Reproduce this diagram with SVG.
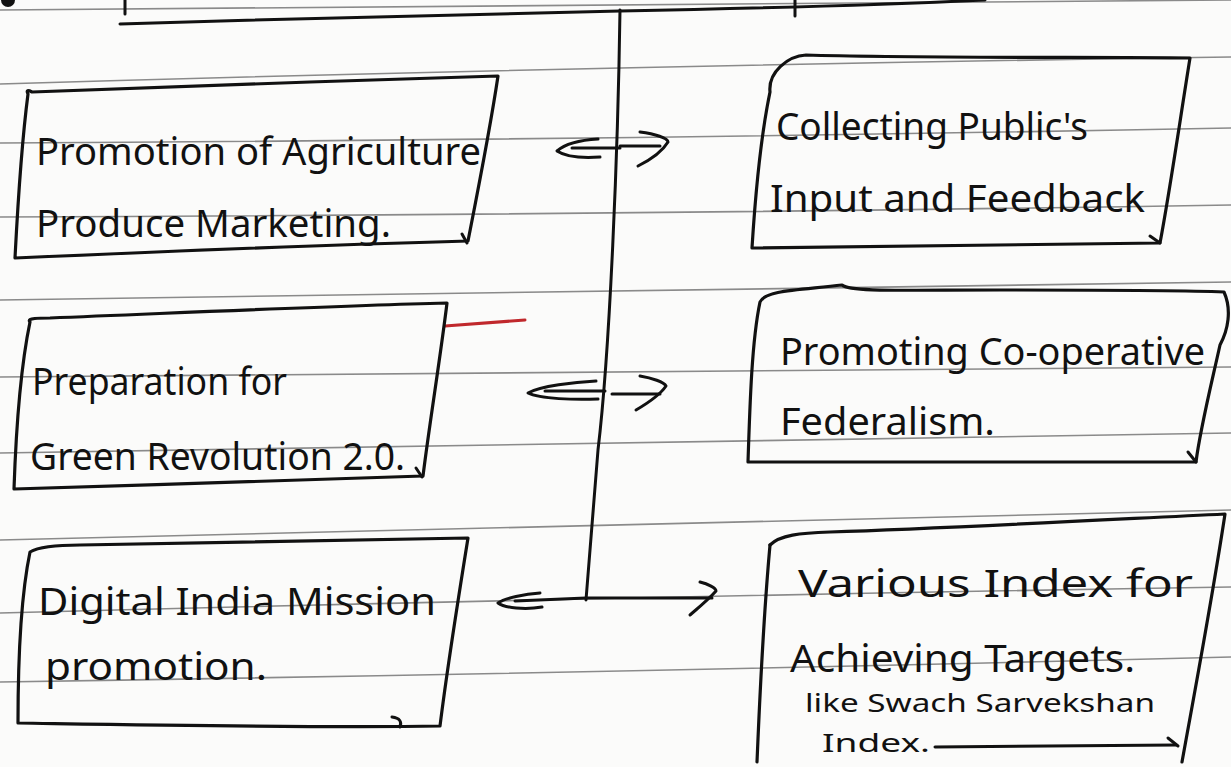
<svg xmlns="http://www.w3.org/2000/svg" width="1231" height="767" viewBox="0 0 1231 767">
<defs>
<style>
.rule{fill:none;stroke:#8a8a8a;stroke-width:1.6}
.box{fill:none;stroke:#111;stroke-width:3.2;stroke-linejoin:round;stroke-linecap:round}
.ink{fill:none;stroke:#111;stroke-width:3;stroke-linecap:round;stroke-linejoin:round}
.t{font-family:"Noto Sans","Liberation Sans",sans-serif;font-size:38px;fill:#111}
.s{font-family:"Noto Sans","Liberation Sans",sans-serif;font-size:26px;fill:#111}
</style>
</defs>
<rect width="1231" height="767" fill="#fbfbfa"/>
<g id="paper">
<path class="rule" d="M0,10 Q600,6 1231,0"/>
<path class="rule" d="M0,84 Q600,66 1231,57"/>
<path class="rule" d="M0,143 Q600,140 1231,128"/>
<path class="rule" d="M0,217 Q600,215 1231,205"/>
<path class="rule" d="M0,300 Q600,293 1231,282"/>
<path class="rule" d="M0,377 Q600,370 1231,367"/>
<path class="rule" d="M0,453 Q600,443 1231,433"/>
<path class="rule" d="M0,540 Q600,523 1231,510"/>
<path class="rule" d="M0,613 Q600,597 1231,587"/>
<path class="rule" d="M0,682 Q600,673 1231,657"/>
<path d="M445,326 L525,320" stroke="#c0282c" stroke-width="3" fill="none" stroke-linecap="round"/>
<circle cx="8" cy="0" r="7" fill="#111"/>
</g>
<g id="header">
<path class="ink" d="M120,24 C300,18 500,14 620,11 C780,8 900,4 985,0" stroke-width="4"/>
<path class="ink" d="M125,0 V14"/>
<path class="ink" d="M795,0 V16"/>
</g>
<g id="connectors">
<path class="ink" d="M620,10 C618,150 610,350 598,450 C592,520 588,570 586,600"/>
<path class="ink" d="M572,148 H620"/>
<path class="ink" d="M598,139 C580,140 565,144 557,151 C566,157 585,158 600,157"/>
<path class="ink" d="M620,146 H660"/>
<path class="ink" d="M640,132 C655,134 668,138 668,142 C662,152 650,160 638,166"/>
<path class="ink" d="M545,391 H605"/>
<path class="ink" d="M596,381 C575,382 540,386 528,393 C540,399 575,400 598,399"/>
<path class="ink" d="M612,394 H660"/>
<path class="ink" d="M640,376 C652,378 664,382 666,386 C660,395 648,403 636,410"/>
<path class="ink" d="M515,601 L586,598 H712"/>
<path class="ink" d="M540,593 C525,594 505,598 498,603 C505,608 525,610 542,607"/>
<path class="ink" d="M700,582 C708,584 716,588 716,591 C708,600 698,608 690,615"/>
</g>
<g id="node-agriculture">
<path class="box" d="M28,94 C26,90 28,90 32,92 C150,88 350,80 498,76 C490,130 478,190 468,241 C320,245 150,252 15,258 C18,200 22,140 28,94 Z"/>
<path class="ink" d="M462,234 L467,243"/>
<text class="t" x="36" y="165" textLength="445" lengthAdjust="spacingAndGlyphs">Promotion of Agriculture</text>
<text class="t" x="36" y="237" textLength="355" lengthAdjust="spacingAndGlyphs">Produce Marketing.</text>
</g>
<g id="node-feedback">
<path class="box" d="M770,92 C768,72 788,56 806,55 C900,58 1100,57 1190,58 C1180,120 1170,190 1160,243 C1000,245 860,246 752,248 C755,200 760,140 770,92 Z"/>
<path class="ink" d="M1150,236 L1160,243"/>
<text class="t" x="776" y="140" textLength="312" lengthAdjust="spacingAndGlyphs">Collecting Public's</text>
<text class="t" x="770" y="212" textLength="375" lengthAdjust="spacingAndGlyphs">Input and Feedback</text>
</g>
<g id="node-green">
<path class="box" d="M30,322 C26,318 40,318 50,318 C200,312 330,306 447,303 C440,360 430,420 423,476 C300,480 150,485 14,489 C16,430 20,370 30,322 Z"/>
<path class="ink" d="M416,468 L422,477"/>
<text class="t" x="32" y="395" textLength="255" lengthAdjust="spacingAndGlyphs">Preparation for</text>
<text class="t" x="30" y="470" textLength="375" lengthAdjust="spacingAndGlyphs">Green Revolution 2.0.</text>
</g>
<g id="node-federalism">
<path class="box" d="M760,302 C765,290 800,290 842,285 C850,292 900,290 1000,290 C1120,290 1180,290 1224,292 C1232,310 1228,330 1220,345 C1210,390 1200,430 1196,462 C1000,463 870,463 748,462 C750,400 752,340 760,302 Z"/>
<path class="ink" d="M1188,452 L1196,462"/>
<text class="t" x="780" y="365" textLength="425" lengthAdjust="spacingAndGlyphs">Promoting Co-operative</text>
<text class="t" x="780" y="435" textLength="215" lengthAdjust="spacingAndGlyphs">Federalism.</text>
</g>
<g id="node-digital">
<path class="box" d="M30,552 C40,546 60,545 80,545 C220,542 350,540 468,538 C458,600 447,670 440,726 C320,728 150,725 18,723 C18,660 20,600 30,552 Z"/>
<path class="ink" d="M392,717 C400,718 402,722 400,727"/>
<text class="t" x="38" y="615" textLength="398" lengthAdjust="spacingAndGlyphs">Digital India Mission</text>
<text class="t" x="45" y="680" textLength="222" lengthAdjust="spacingAndGlyphs">promotion.</text>
</g>
<g id="node-index">
<path class="box" d="M770,545 C780,535 800,533 830,532 C950,528 1100,520 1225,514 C1212,600 1195,690 1182,762"/>
<path class="box" d="M770,545 C765,600 760,690 757,762"/>
<path class="ink" d="M935,747 L1176,745"/>
<path class="ink" d="M1168,738 L1178,746"/>
<text class="t" x="798" y="597" textLength="395" lengthAdjust="spacingAndGlyphs">Various Index for</text>
<text class="t" x="790" y="672" textLength="345" lengthAdjust="spacingAndGlyphs">Achieving Targets.</text>
<text class="s" x="805" y="712" textLength="350" lengthAdjust="spacingAndGlyphs">like Swach Sarvekshan</text>
<text class="s" x="822" y="752" textLength="108" lengthAdjust="spacingAndGlyphs">Index.</text>
</g>
</svg>
